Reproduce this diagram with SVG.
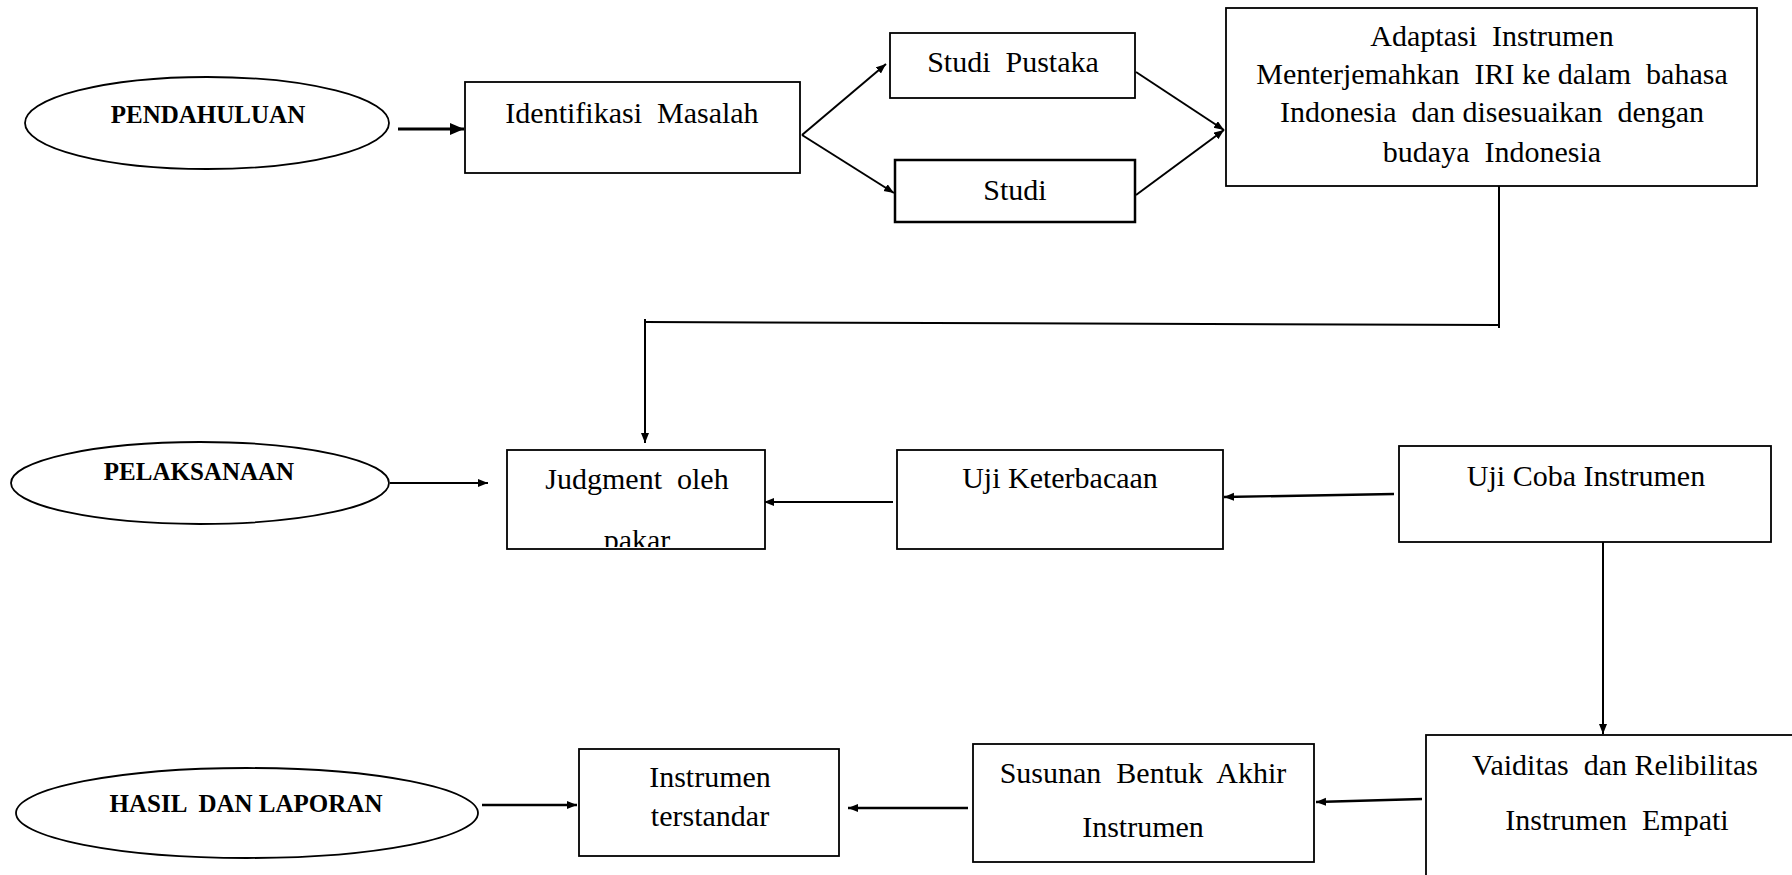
<svg xmlns="http://www.w3.org/2000/svg" width="1792" height="875" viewBox="0 0 1792 875">
<style>
  .box{fill:#fff;stroke:#000;stroke-width:1.8}
  .ell{fill:#fff;stroke:#000;stroke-width:1.8}
  .t{font-family:"Liberation Serif","Times New Roman",serif;font-size:30px;fill:#000;text-anchor:middle;white-space:pre}
  .b{font-family:"Liberation Serif","Times New Roman",serif;font-size:25px;font-weight:bold;fill:#000;text-anchor:middle;white-space:pre}
  .c{fill:none;stroke:#000;stroke-width:2}
</style>
<defs>
  <marker id="ah" markerUnits="userSpaceOnUse" markerWidth="12" markerHeight="10" refX="10" refY="4" orient="auto">
    <path d="M0,0 L10,4 L0,8 z" fill="#000"/>
  </marker>
  <marker id="ahb" markerUnits="userSpaceOnUse" markerWidth="16" markerHeight="14" refX="14" refY="6" orient="auto">
    <path d="M0,0 L14,6 L0,12 z" fill="#000"/>
  </marker>
  <clipPath id="jclip"><rect x="508" y="451" width="256" height="96"/></clipPath>
</defs>
<rect width="1792" height="875" fill="#fff"/>

<g id="connectors">
  <line class="c" x1="398" y1="129" x2="464" y2="129" style="stroke-width:3.2" marker-end="url(#ahb)"/>
  <line class="c" x1="802" y1="135" x2="886" y2="64" marker-end="url(#ah)"/>
  <line class="c" x1="802" y1="135" x2="894" y2="193" marker-end="url(#ah)"/>
  <line class="c" x1="1136" y1="72" x2="1224" y2="130" marker-end="url(#ah)"/>
  <line class="c" x1="1136" y1="195" x2="1224" y2="130" marker-end="url(#ah)"/>
  <line class="c" x1="1499" y1="186" x2="1499" y2="328"/>
  <line class="c" x1="1499" y1="325" x2="645" y2="322"/>
  <line class="c" x1="645" y1="319" x2="645" y2="443" marker-end="url(#ah)"/>
  <line class="c" x1="390" y1="483" x2="488" y2="483" marker-end="url(#ah)"/>
  <line class="c" x1="893" y1="502" x2="764" y2="502" marker-end="url(#ah)"/>
  <line class="c" x1="1394" y1="494" x2="1224" y2="497" style="stroke-width:2.4" marker-end="url(#ah)"/>
  <line class="c" x1="1603" y1="542" x2="1603" y2="734" marker-end="url(#ah)"/>
  <line class="c" x1="1422" y1="799" x2="1316" y2="802" style="stroke-width:2.4" marker-end="url(#ah)"/>
  <line class="c" x1="968" y1="808" x2="848" y2="808" style="stroke-width:2.4" marker-end="url(#ah)"/>
  <line class="c" x1="482" y1="805" x2="577" y2="805" style="stroke-width:2.4" marker-end="url(#ah)"/>
</g>

<g id="pendahuluan">
  <ellipse class="ell" cx="207" cy="123" rx="182" ry="46"/>
  <text class="b" x="208" y="123">PENDAHULUAN</text>
</g>
<g id="identifikasi">
  <rect class="box" x="465" y="82" width="335" height="91"/>
  <text class="t" x="632" y="123">Identifikasi  Masalah</text>
</g>
<g id="studi-pustaka">
  <rect class="box" x="890" y="33" width="245" height="65"/>
  <text class="t" x="1013" y="72">Studi  Pustaka</text>
</g>
<g id="studi">
  <rect class="box" x="895" y="160" width="240" height="62" style="stroke-width:2.5"/>
  <text class="t" x="1015" y="200">Studi</text>
</g>
<g id="adaptasi">
  <rect class="box" x="1226" y="8" width="531" height="178"/>
  <text class="t" x="1492" y="46">Adaptasi  Instrumen</text>
  <text class="t" x="1492" y="84">Menterjemahkan  IRI ke dalam  bahasa</text>
  <text class="t" x="1492" y="122">Indonesia  dan disesuaikan  dengan</text>
  <text class="t" x="1492" y="162">budaya  Indonesia</text>
</g>
<g id="pelaksanaan">
  <ellipse class="ell" cx="200" cy="483" rx="189" ry="41"/>
  <text class="b" x="199" y="480">PELAKSANAAN</text>
</g>
<g id="judgment">
  <rect class="box" x="507" y="450" width="258" height="99"/>
  <text class="t" x="637" y="489">Judgment  oleh</text>
  <text class="t" x="637" y="550" clip-path="url(#jclip)">pakar</text>
</g>
<g id="uji-keterbacaan">
  <rect class="box" x="897" y="450" width="326" height="99"/>
  <text class="t" x="1060" y="488">Uji Keterbacaan</text>
</g>
<g id="uji-coba">
  <rect class="box" x="1399" y="446" width="372" height="96"/>
  <text class="t" x="1586" y="486">Uji Coba Instrumen</text>
</g>
<g id="validitas">
  <rect class="box" x="1426" y="735" width="420" height="200"/>
  <text class="t" x="1615" y="775">Vaiditas  dan Relibilitas</text>
  <text class="t" x="1617" y="830">Instrumen  Empati</text>
</g>
<g id="susunan">
  <rect class="box" x="973" y="744" width="341" height="118"/>
  <text class="t" x="1143" y="783">Susunan  Bentuk  Akhir</text>
  <text class="t" x="1143" y="837">Instrumen</text>
</g>
<g id="instrumen-terstandar">
  <rect class="box" x="579" y="749" width="260" height="107"/>
  <text class="t" x="710" y="787">Instrumen</text>
  <text class="t" x="710" y="826">terstandar</text>
</g>
<g id="hasil">
  <ellipse class="ell" cx="247" cy="813" rx="231" ry="45"/>
  <text class="b" x="246" y="812">HASIL  DAN LAPORAN</text>
</g>
</svg>
